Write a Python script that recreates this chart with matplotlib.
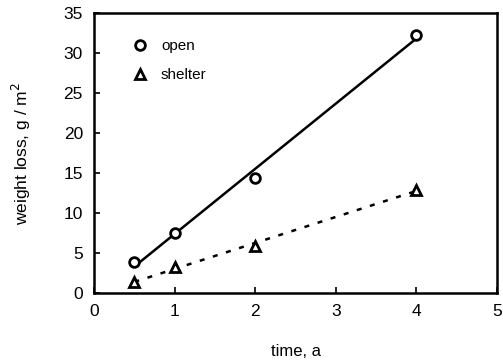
import matplotlib
matplotlib.use('Agg')
import matplotlib.pyplot as plt
import numpy as np

plt.rcParams['font.family'] = ['Liberation Sans', 'DejaVu Sans']

# data
time = [0.5, 1, 2, 4]
open_loss = [3.9, 7.5, 14.4, 32.3]
shelter_loss = [1.4, 3.3, 5.9, 12.9]
x_ticks = [0, 1, 2, 3, 4, 5]
y_ticks = [0, 5, 10, 15, 20, 25, 30, 35]

fig = plt.figure(figsize=(5.03, 3.62), dpi=100)
ax = fig.add_axes([0.187, 0.19, 0.801, 0.774])

# regression lines
t = np.array([min(time), max(time)])
p_open = np.polyfit(time, open_loss, 1)
p_shel = np.polyfit(time, shelter_loss, 1)
ax.plot(t, np.polyval(p_open, t), color='black', lw=1.8)
ax.plot(t, np.polyval(p_shel, t), color='black', lw=1.8, ls=(0, (2, 3.5)))

ax.plot(time, open_loss, ls='none', marker='o', ms=7, mfc='white',
        mec='black', mew=2, label='open')
ax.plot(time, shelter_loss, ls='none', marker='^', ms=7, mfc='white',
        mec='black', mew=2, label='shelter')

ax.set_xlim(0, 5)
ax.set_ylim(0, 35)
ax.set_xticks(x_ticks)
ax.set_yticks(y_ticks)
ax.tick_params(direction='in', length=4, width=1.2, labelsize=12.5, pad=8)
for s in ax.spines.values():
    s.set_linewidth(1.8)

ax.set_xlabel('time, a', fontsize=12, labelpad=18)
ax.set_ylabel('weight loss, g / m$^2$', fontsize=12.5, labelpad=22)

ax.legend(loc='upper left', frameon=False, fontsize=11, handlelength=1,
          handletextpad=0.9, labelspacing=0.95, bbox_to_anchor=(0.06, 0.955))

fig.savefig('out.png', dpi=100)
